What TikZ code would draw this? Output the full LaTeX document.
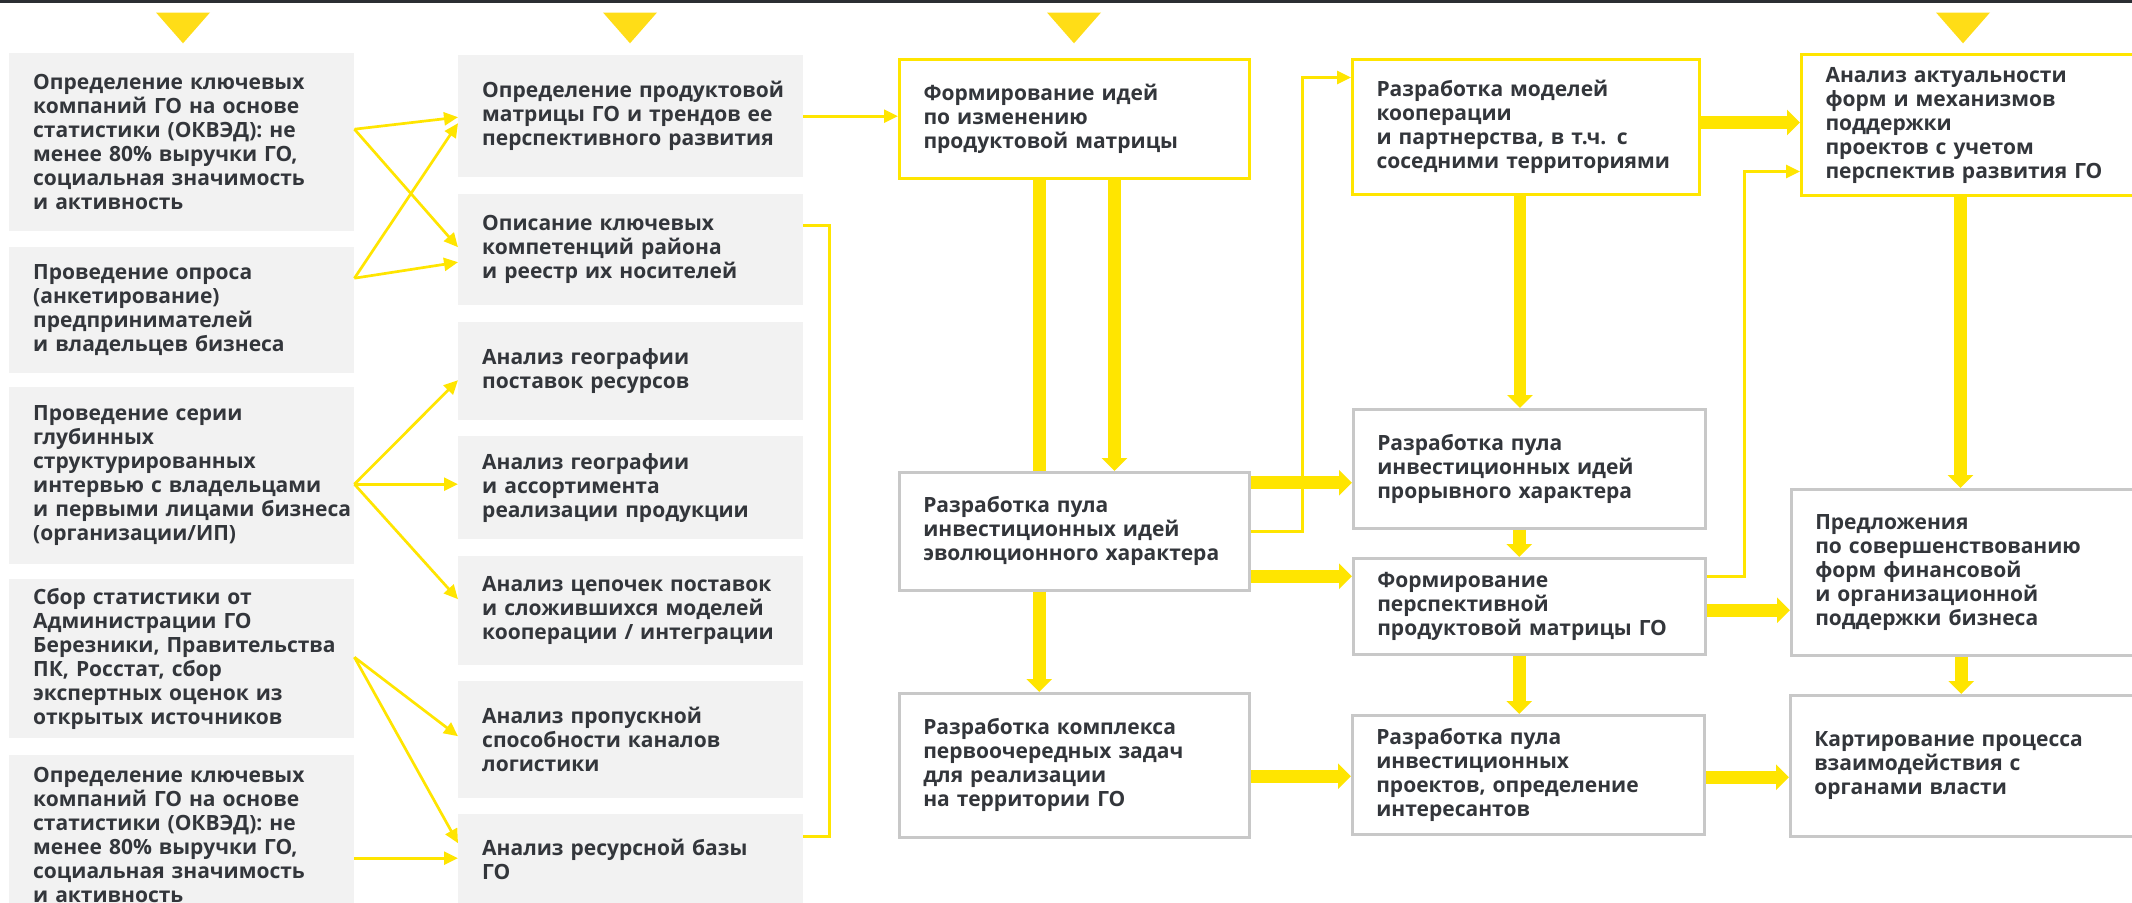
\documentclass[tikz,border=0pt]{standalone}
\usepackage{fontspec}
\setmainfont{Open Sans}
\usetikzlibrary{arrows.meta,calc}
\definecolor{ylw}{HTML}{FFE500}
\definecolor{tri}{HTML}{FFDD17}
\definecolor{boxgray}{HTML}{F2F2F2}
\definecolor{bordgray}{HTML}{C8C8C8}
\definecolor{txt}{HTML}{33363B}
\definecolor{topbar}{HTML}{2B2E33}

\begin{document}
\begin{tikzpicture}[x=1pt,y=1pt,yscale=-1,xscale=1,
  box/.style={anchor=north west, align=left, inner xsep=24pt, inner ysep=0pt, text=txt,
    font=\bfseries\fontsize{21}{24}\selectfont,
    execute at begin node={\rightskip=0pt plus 1fil minus 1000pt}},
  grayfill/.style={box, fill=boxgray},
  ybox/.style={box, draw=ylw, line width=3pt, fill=white},
  gbox/.style={box, draw=bordgray, line width=2.5pt, fill=white},
  thinarr/.style={draw=ylw, line width=2.7pt, -{Triangle[length=14pt,width=13pt]}},
  thinline/.style={draw=ylw, line width=2.7pt},
  thickarr/.style={draw=ylw, line width=12.7pt, -{Triangle[length=13pt,width=25pt]}},
  thickbar/.style={draw=ylw, line width=12.7pt},
]
\useasboundingbox (0,0) rectangle (2132,902);
\fill[white] (0,0) rectangle (2132,902);
\fill[topbar] (0,0) rectangle (2132,2.7);
\foreach \tx in {183,630,1074,1963}
  {\fill[tri] (\tx-27,12.5) -- (\tx+27,12.5) -- (\tx,43.3) -- cycle;}

% Sources
\node[grayfill, text width=297pt, minimum height=178pt] (L1) at (9,53) {Определение ключевых\\компаний ГО на основе\\статистики (ОКВЭД): не\\менее 80\% выручки ГО,\\социальная значимость\\и активность};
\node[grayfill, text width=297pt, minimum height=126pt] (L2) at (9,247) {Проведение опроса\\(анкетирование)\\предпринимателей\\и владельцев бизнеса};
\node[grayfill, text width=297pt, minimum height=177pt] (L3) at (9,387) {Проведение серии\\глубинных\\структурированных\\интервью с владельцами\\и первыми лицами бизнеса\\(организации/ИП)};
\node[grayfill, text width=297pt, minimum height=159pt] (L4) at (9,579) {Сбор статистики от\\Администрации ГО\\Березники, Правительства\\ПК, Росстат, сбор\\экспертных оценок из\\открытых источников};
\node[grayfill, text width=297pt, minimum height=160pt] (L5) at (9,755) {Определение ключевых\\компаний ГО на основе\\статистики (ОКВЭД): не\\менее 80\% выручки ГО,\\социальная значимость\\и активность};

% Analysis
\node[grayfill, text width=297pt, minimum height=122pt] (M1) at (458,55) {Определение продуктовой\\матрицы ГО и трендов ее\\перспективного развития};
\node[grayfill, text width=297pt, minimum height=111pt] (M2) at (458,194) {Описание ключевых\\компетенций района\\и реестр их носителей};
\node[grayfill, text width=297pt, minimum height=98pt] (M3) at (458,322) {Анализ географии\\поставок ресурсов};
\node[grayfill, text width=297pt, minimum height=103pt] (M4) at (458,436) {Анализ географии\\и ассортимента\\реализации продукции};
\node[grayfill, text width=297pt, minimum height=109pt] (M5) at (458,556) {Анализ цепочек поставок\\и сложившихся моделей\\кооперации / интеграции};
\node[grayfill, text width=297pt, minimum height=117pt] (M6) at (458,681) {Анализ пропускной\\способности каналов\\логистики};
\node[grayfill, text width=297pt, minimum height=90pt] (M7) at (458,814) {Анализ ресурсной базы\\ГО};

% Ideas
\node[ybox, text width=302pt, minimum height=119pt] (F1) at (898,58) {Формирование идей\\по изменению\\продуктовой матрицы};
\node[gbox, text width=302pt, minimum height=118pt] (F2) at (898,471) {Разработка пула\\инвестиционных идей\\эволюционного характера};
\node[gbox, text width=302pt, minimum height=144pt] (F3) at (898,692) {Разработка комплекса\\первоочередных задач\\для реализации\\на территории ГО};

% Models
\node[ybox, text width=299pt, minimum height=135pt] (G0) at (1351,58) {Разработка моделей\\кооперации\\и партнерства, в т.ч. с\\соседними территориями};
\node[gbox, text width=304pt, minimum height=119pt] (G1) at (1352,408) {Разработка пула\\инвестиционных идей\\прорывного характера};
\node[gbox, text width=304pt, minimum height=96pt] (G2) at (1352,557) {Формирование\\перспективной\\продуктовой матрицы ГО};
\node[gbox, text width=304pt, minimum height=119pt] (G3) at (1351,714) {Разработка пула\\инвестиционных\\проектов, определение\\интересантов};

% Support
\node[ybox, text width=312pt, minimum height=141pt] (H0) at (1800,53) {Анализ актуальности\\форм и механизмов\\поддержки\\проектов с учетом\\перспектив развития ГО};
\node[gbox, text width=322pt, minimum height=166pt] (H1) at (1790,488) {Предложения\\по совершенствованию\\форм финансовой\\и организационной\\поддержки бизнеса};
\node[gbox, text width=323pt, minimum height=141pt] (H2) at (1789,694) {Картирование процесса\\взаимодействия с\\органами власти};

% thin connectors
\draw[thinarr] ($(L1.east)+(0,-13)$) -- ($(M1.west)+(0,1)$);
\draw[thinarr] ($(L1.east)+(0,-13)$) -- ($(M2.west)+(0,-2.5)$);
\draw[thinarr] ($(L2.east)+(0,-32)$) -- ($(M1.west)+(0,7)$);
\draw[thinarr] ($(L2.east)+(0,-32)$) -- ($(M2.west)+(0,12.5)$);
\draw[thinarr] ($(L3.east)+(0,8.5)$) -- ($(M3.west)+(0,9)$);
\draw[thinarr] ($(L3.east)+(0,8.5)$) -- ($(M4.west)+(0,-3.5)$);
\draw[thinarr] ($(L3.east)+(0,8.5)$) -- ($(M5.west)+(0,-11.5)$);
\draw[thinarr] ($(L4.east)+(0,-1.5)$) -- ($(M6.west)+(0,-3.5)$);
\draw[thinarr] ($(L4.east)+(0,-1.5)$) -- ($(M7.west)+(0,-16)$);
\draw[thinarr] ($(L5.east)+(0,23)$) -- ($(M7.west)+(0,-1)$);
\draw[thinarr] (M1.east) -- (M1.east -| F1.west);
\draw[thinline] ($(M2.east)+(0,-24.5)$) -- ++(26,0) |- ($(M7.east)+(0,-23)$);
\draw[thinarr] (F2.east) -- ++(52,0) |- ($(G0.west)+(0,-49.5)$);
\draw[thinarr] ($(G2.east)+(0,-30)$) -- ++(38,0) |- ($(H0.west)+(0,46.5)$);

% thick connectors
\coordinate (f1a) at ($(F1.south)+(-35,0)$);
\coordinate (f1b) at ($(F1.south)+(40,0)$);
\coordinate (f2a) at ($(F2.south)+(-35,0)$);
\coordinate (f2b) at ($(F2.east)+(0,-48.5)$);
\coordinate (f2c) at ($(F2.east)+(0,45)$);
\coordinate (f3a) at ($(F3.east)+(0,11)$);
\coordinate (g0a) at ($(G0.south)+(-6,0)$);
\coordinate (g0b) at ($(G0.east)+(0,-4.5)$);
\coordinate (g1a) at ($(G1.south)+(-10,0)$);
\coordinate (g2a) at ($(G2.south)+(-10,0)$);
\coordinate (g2b) at ($(G2.east)+(0,4)$);
\coordinate (g3a) at ($(G3.east)+(0,2.5)$);
\coordinate (h0a) at ($(H0.south)+(-21,0)$);
\coordinate (h1a) at ($(H1.south)+(-15,0)$);
\draw[thickbar] (f1a) -- (f1a |- F2.north);
\draw[thickarr] (f1b) -- (f1b |- F2.north);
\draw[thickarr] (f2a) -- (f2a |- F3.north);
\draw[thickarr] (f2b) -- (f2b -| G1.west);
\draw[thickarr] (f2c) -- (f2c -| G2.west);
\draw[thickarr] (f3a) -- (f3a -| G3.west);
\draw[thickarr] (g0a) -- (g0a |- G1.north);
\draw[thickarr] (g1a) -- (g1a |- G2.north);
\draw[thickarr] (g2a) -- (g2a |- G3.north);
\draw[thickarr] (g0b) -- (g0b -| H0.west);
\draw[thickarr] (g2b) -- (g2b -| H1.west);
\draw[thickarr] (g3a) -- (g3a -| H2.west);
\draw[thickarr] (h0a) -- (h0a |- H1.north);
\draw[thickarr] (h1a) -- (h1a |- H2.north);
\end{tikzpicture}
\end{document}
